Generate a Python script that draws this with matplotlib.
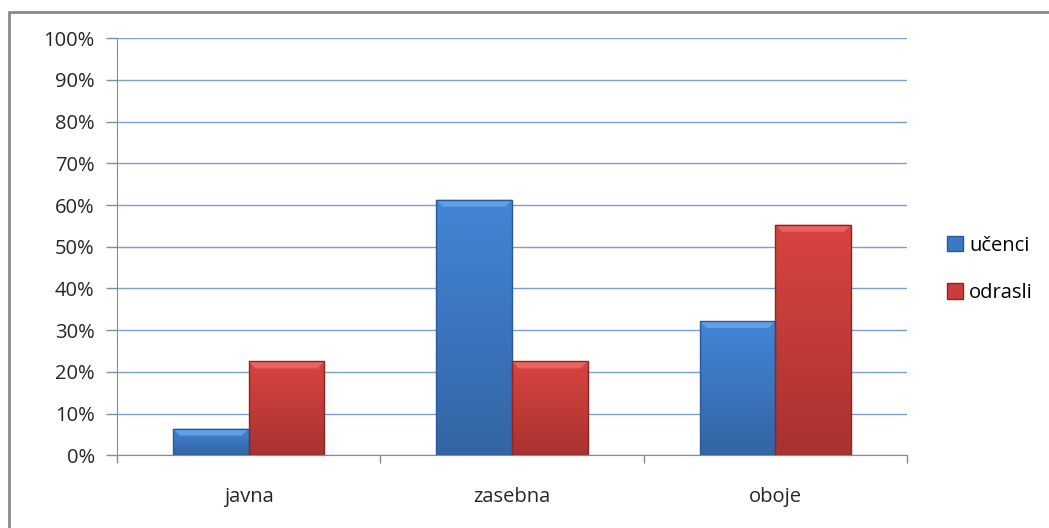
import matplotlib.pyplot as plt
import matplotlib.patches as mpatches
from matplotlib.colors import LinearSegmentedColormap
from matplotlib.ticker import FixedLocator, NullFormatter
import numpy as np

plt.rcParams["font.family"] = ["Open Sans", "DejaVu Sans"]

categories = ["javna", "zasebna", "oboje"]
ucenci = [6.4, 61.3, 32.2]
odrasli = [22.5, 22.5, 55.3]
series_names = ["učenci", "odrasli"]
y_ticks = [0, 10, 20, 30, 40, 50, 60, 70, 80, 90, 100]

blue = "#3b78c4"
blue_edge = "#2a5a96"
red = "#cc3d3a"
red_edge = "#8e2523"
grid_col = "#7ba0d4"
axis_col = "#8c8c8c"

# (bottom, top, bevel highlight) colours per series
shade = {
    "blue": ("#3464a4", "#4286d6", "#6aa8ee"),
    "red": ("#a83230", "#d8443f", "#ee6d68"),
}


def bevel_bars(ax, bars, key):
    lo, hi, hl = shade[key]
    cmap = LinearSegmentedColormap.from_list(key, [lo, hi])
    grad = np.linspace(0, 1, 256).reshape(-1, 1)
    # bevel sizes in pixels converted to data units
    px_x = 1.0 / (ax.bbox.width / np.diff(ax.get_xlim())[0])
    px_y = 1.0 / (ax.bbox.height / np.diff(ax.get_ylim())[0])
    for r in bars:
        x0, w, h = r.get_x(), r.get_width(), r.get_height()
        im = ax.imshow(grad, cmap=cmap, origin="lower", aspect="auto",
                       extent=(x0, x0 + w, 0, h), zorder=3)
        im.set_clip_path(r)
        bx, by = 7 * px_x, 7 * px_y
        ax.add_patch(mpatches.Polygon(
            [(x0, h), (x0 + w, h), (x0 + w - bx, h - by), (x0 + bx, h - by)],
            closed=True, facecolor=hl, edgecolor="none", alpha=0.8, zorder=4))
        r.set_facecolor("none")
        r.set_zorder(5)


fig = plt.figure(figsize=(10.49, 5.28), dpi=100)
ax = fig.add_axes([0.1115, 0.1377, 0.7531, 0.7898])

x = np.arange(len(categories))
w = 0.2875
ax.set_xlim(-0.5, len(categories) - 0.5)
ax.set_ylim(0, 100)
b1 = ax.bar(x - w / 2, ucenci, width=w, color=blue, edgecolor=blue_edge, linewidth=1.0, zorder=3)
b2 = ax.bar(x + w / 2, odrasli, width=w, color=red, edgecolor=red_edge, linewidth=1.0, zorder=3)
bevel_bars(ax, b1, "blue")
bevel_bars(ax, b2, "red")
ax.set_xlim(-0.5, len(categories) - 0.5)
ax.set_ylim(0, 100)

ax.set_yticks(y_ticks)
ax.set_yticklabels([f"{t}%" for t in y_ticks])
ax.set_xticks(x)
ax.set_xticklabels(categories)
ax.xaxis.set_minor_locator(FixedLocator(np.arange(len(categories) + 1) - 0.5))
ax.xaxis.set_minor_formatter(NullFormatter())
ax.tick_params(axis="x", which="major", length=0, pad=23, labelsize=14.5, labelcolor="#262626")
ax.tick_params(axis="x", which="minor", length=6, color=axis_col, width=1)
ax.tick_params(axis="y", length=8, color=axis_col, width=1, pad=8, labelsize=14.5, labelcolor="#262626")

ax.yaxis.grid(True, color=grid_col, linewidth=1.0, zorder=0)
ax.set_axisbelow(True)
for s in ["top", "right"]:
    ax.spines[s].set_visible(False)
ax.spines["left"].set_color(axis_col)
ax.spines["bottom"].set_color(axis_col)

handles = [mpatches.Patch(facecolor=blue, edgecolor=blue_edge),
           mpatches.Patch(facecolor=red, edgecolor=red_edge)]
fig.legend(handles, series_names, loc="center left", bbox_to_anchor=(0.893, 0.49),
           frameon=False, fontsize=14.5, handlelength=0.8, handleheight=0.8,
           handletextpad=0.3, labelspacing=1.35, borderpad=0)

# outer chart border (runs off the right/bottom edge in the reference)
fig.patches.append(mpatches.Rectangle((9 / 1049, -0.1), 1.2, 1 - 12 / 528 + 0.1,
                                      transform=fig.transFigure, fill=False,
                                      edgecolor="#8a8a8a", linewidth=2))

fig.savefig("out.png", dpi=100)
